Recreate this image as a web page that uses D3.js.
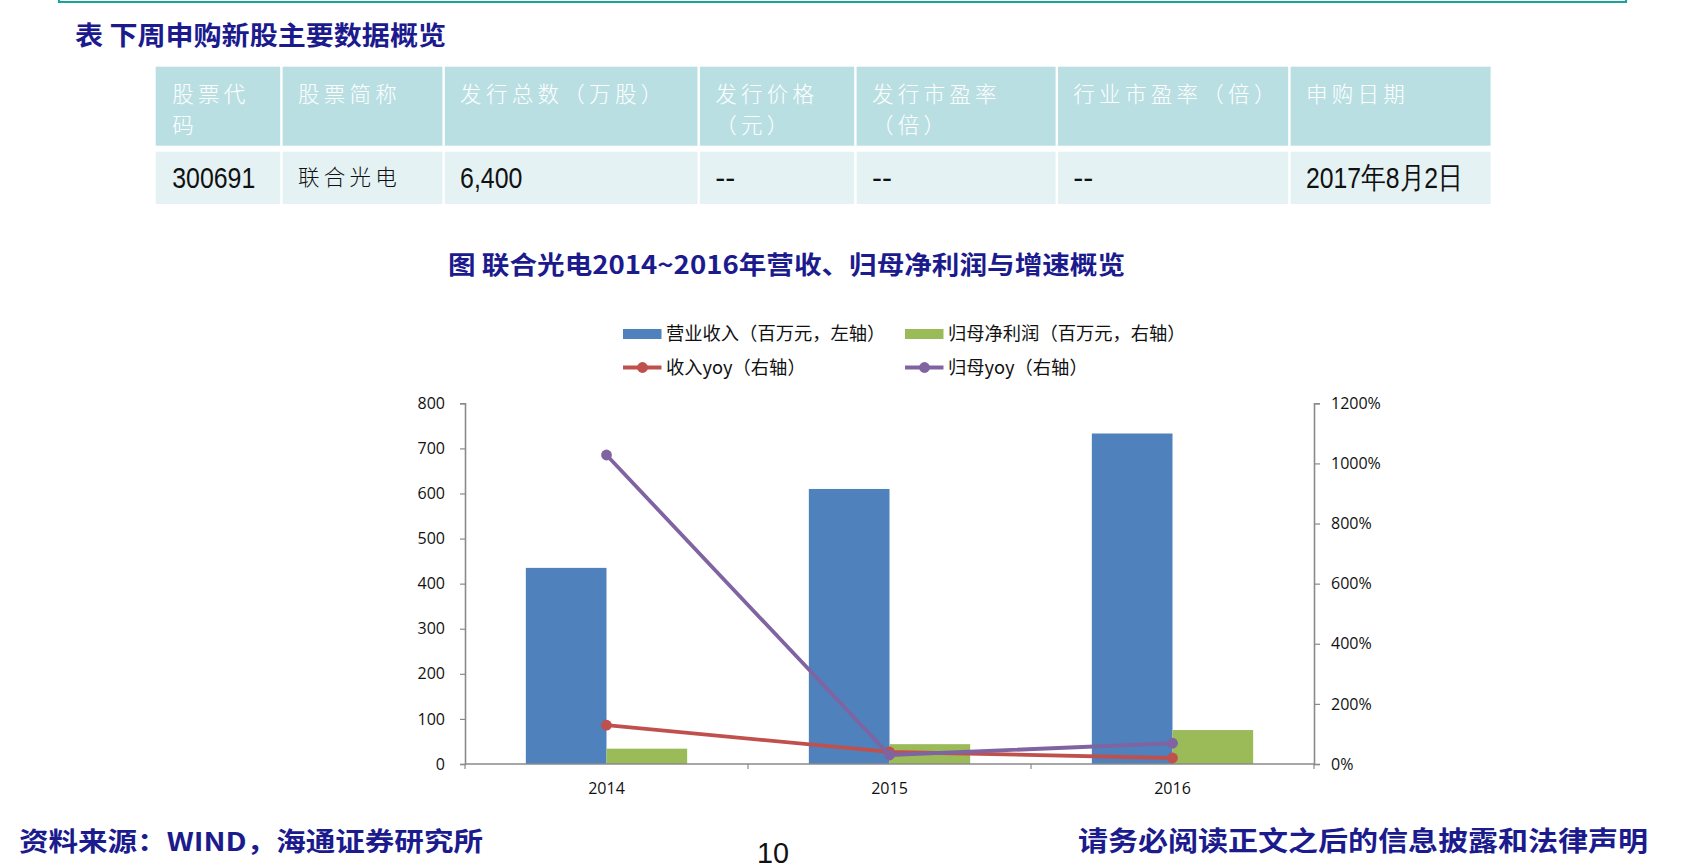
<!DOCTYPE html>
<html><head><meta charset="utf-8">
<script src="https://cdn.jsdelivr.net/npm/d3@7"></script>
<style>body{margin:0;background:#fff;overflow:hidden}svg{display:block}</style>
</head><body><svg id="c" width="1684" height="868"></svg>
<script>
// ---------- data ----------
const years = ["2014", "2015", "2016"];
const revenue = [435, 610, 733];          // 营业收入（百万元，左轴）
const netProfit = [51, 66, 113];          // 归母净利润（百万元，右轴）
const revenueYoy = [129, 40, 20];         // 收入yoy（%，右轴）
const profitYoy = [1028, 30, 69];         // 归母yoy（%，右轴）
const leftTicks = [0, 100, 200, 300, 400, 500, 600, 700, 800];
const rightTicks = [0, 200, 400, 600, 800, 1000, 1200];
const seriesNames = ["营业收入（百万元，左轴）", "归母净利润（百万元，右轴）", "收入yoy（右轴）", "归母yoy（右轴）"];
const tableHeaders = [["股票代", "码"], ["股票简称"], ["发行总数（万股）"], ["发行价格", "（元）"], ["发行市盈率", "（倍）"], ["行业市盈率（倍）"], ["申购日期"]];
const tableRow = ["300691", "联合光电", "6,400", "--", "--", "--", "2017年8月2日"];
const heading = "表 下周申购新股主要数据概览";
const chartTitle = "图 联合光电2014~2016年营收、归母净利润与增速概览";
const sourceNote = "资料来源：WIND，海通证券研究所";
const pageNo = "10";
const disclaimer = "请务必阅读正文之后的信息披露和法律声明";

// ---------- styles ----------
const NAVY = "#1b1b8e";
const CJK = "'Noto Sans CJK SC', sans-serif";
const LAT = "'Open Sans', 'DejaVu Sans', sans-serif";
const C = {blue: "#4f81bd", green: "#9bbb59", red: "#c0504d", purple: "#8064a2", axis: "#8a8a8a"};

const svg = d3.select("#c");

// top frame line
svg.append("path").attr("d", "M59,-2 V2 H1626 V-2").attr("fill", "none")
  .attr("stroke", "#1aa39c").attr("stroke-width", 2.2);

// heading
svg.append("text").attr("x", 75).attr("y", 33.5).attr("dominant-baseline", "central")
  .attr("font-family", CJK).attr("font-weight", 700).attr("font-size", 26)
  .attr("fill", NAVY).attr("textLength", 371).attr("lengthAdjust", "spacingAndGlyphs").text(heading);

// ---------- table ----------
const colEdges = [155.7, 281.4, 443.6, 698.7, 855.4, 1056.8, 1289.4, 1491.8];
const hdrTop = 66.7, hdrBot = 145.7, rowTop = 151.7, rowBot = 204;
const tbl = svg.append("g");
tableHeaders.forEach((lines, i) => {
  const x0 = colEdges[i] + (i ? 1.2 : 0), x1 = colEdges[i + 1] - 1.2;
  tbl.append("rect").attr("x", x0).attr("y", hdrTop).attr("width", x1 - x0).attr("height", hdrBot - hdrTop).attr("fill", "#badfe3");
  tbl.append("rect").attr("x", x0).attr("y", rowTop).attr("width", x1 - x0).attr("height", rowBot - rowTop).attr("fill", "#e5f2f4");
  lines.forEach((ln, j) => {
    tbl.append("text").attr("x", colEdges[i] + 16.5).attr("y", 92.5 + j * 30.5).attr("dominant-baseline", "central")
      .attr("font-family", CJK).attr("font-weight", 300).attr("font-size", 21.5)
      .attr("letter-spacing", "4.3px").attr("fill", "#ffffff").text(ln);
  });
  const v = tableRow[i];
  const hasCJK = /[\u4e00-\u9fff]/.test(v);
  const hasDigit = /\d/.test(v);
  const t = tbl.append("text").attr("x", colEdges[i] + 16.5).attr("fill", "#111").text(v);
  if (hasCJK && !hasDigit) {
    t.attr("y", 175.5).attr("dominant-baseline", "central")
      .attr("font-family", CJK).attr("font-weight", 300).attr("font-size", 21.5).attr("letter-spacing", "4.3px");
  } else {
    t.attr("y", 188).attr("font-family", "'Liberation Sans', sans-serif").attr("font-size", 30);
    if (hasDigit) {
      const target = hasCJK ? 157 : t.node().getComputedTextLength() * 0.83;
      t.attr("textLength", target).attr("lengthAdjust", "spacingAndGlyphs");
    }
  }
});

// chart title
svg.append("text").attr("x", 448).attr("y", 263).attr("dominant-baseline", "central")
  .attr("font-family", CJK).attr("font-weight", 700).attr("font-size", 25)
  .attr("fill", NAVY).attr("textLength", 677).attr("lengthAdjust", "spacingAndGlyphs").text(chartTitle);

// ---------- chart ----------
const xL = 465, xR = 1314, yB = 764, yT = 403.3;
const x = d3.scaleBand().domain(years).range([xL, xR]).paddingInner(0).paddingOuter(0);
const yL = d3.scaleLinear().domain([0, 800]).range([yB, yT]);
const yR = d3.scaleLinear().domain([0, 1200]).range([yB, yT]);
const barW = x.bandwidth() * 0.285;
const cx = d => x(d) + x.bandwidth() / 2;

const g = svg.append("g");
g.selectAll(".rev").data(years).join("rect")
  .attr("x", d => cx(d) - barW).attr("width", barW)
  .attr("y", (d, i) => yL(revenue[i])).attr("height", (d, i) => yB - yL(revenue[i])).attr("fill", C.blue);
g.selectAll(".np").data(years).join("rect")
  .attr("x", d => cx(d)).attr("width", barW)
  .attr("y", (d, i) => yR(netProfit[i])).attr("height", (d, i) => yB - yR(netProfit[i])).attr("fill", C.green);

// axes
const axL = d3.axisLeft(yL).tickValues(leftTicks).tickSize(5).tickPadding(15);
const axR = d3.axisRight(yR).tickValues(rightTicks).tickSize(6).tickPadding(11).tickFormat(d => d + "%");
const gl = svg.append("g").attr("transform", `translate(${xL},0)`).call(axL);
const gr = svg.append("g").attr("transform", `translate(${xR},0)`).call(axR);
const xBounds = [xL, ...years.map(d => x(d) + x.bandwidth())];
const gb = svg.append("g");
gb.append("line").attr("x1", xL).attr("x2", xR).attr("y1", yB).attr("y2", yB).attr("stroke", C.axis).attr("stroke-width", 1.6);
gb.selectAll(".tk").data(xBounds).join("line").attr("x1", d => d).attr("x2", d => d)
  .attr("y1", yB).attr("y2", yB + 5).attr("stroke", C.axis).attr("stroke-width", 1.2);
gb.selectAll(".yr").data(years).join("text").attr("x", d => cx(d)).attr("y", 787.5)
  .attr("dominant-baseline", "central").attr("text-anchor", "middle")
  .attr("font-family", LAT).attr("font-size", 16).attr("fill", "#111").text(d => d);
[gl, gr].forEach(a => {
  a.select(".domain").attr("stroke", C.axis).attr("stroke-width", 1.6);
  a.selectAll(".tick line").attr("stroke", C.axis).attr("stroke-width", 1.2);
  a.selectAll(".tick text").attr("font-family", LAT).attr("font-size", 16).attr("fill", "#111");
});

// lines
function drawLine(vals, color) {
  const pts = years.map((d, i) => [cx(d), yR(vals[i])]);
  svg.append("path").attr("d", d3.line()(pts)).attr("fill", "none")
    .attr("stroke", color).attr("stroke-width", 3.8).attr("stroke-linejoin", "round");
  svg.append("g").selectAll("circle").data(pts).join("circle")
    .attr("cx", p => p[0]).attr("cy", p => p[1]).attr("r", 5.4).attr("fill", color);
}
drawLine(revenueYoy, C.red);
drawLine(profitYoy, C.purple);

// legend
const lg = svg.append("g");
const legItems = [
  {name: seriesNames[0], color: C.blue, type: "bar", x: 623, y: 334},
  {name: seriesNames[1], color: C.green, type: "bar", x: 905, y: 334},
  {name: seriesNames[2], color: C.red, type: "line", x: 623, y: 367.5},
  {name: seriesNames[3], color: C.purple, type: "line", x: 905, y: 367.5}
];
legItems.forEach(it => {
  if (it.type === "bar") {
    lg.append("rect").attr("x", it.x).attr("y", it.y - 5).attr("width", 38.5).attr("height", 10).attr("fill", it.color);
  } else {
    lg.append("line").attr("x1", it.x).attr("x2", it.x + 38.5).attr("y1", it.y).attr("y2", it.y)
      .attr("stroke", it.color).attr("stroke-width", 3.8);
    lg.append("circle").attr("cx", it.x + 19.5).attr("cy", it.y).attr("r", 5.4).attr("fill", it.color);
  }
  lg.append("text").attr("x", it.x + 43).attr("y", it.y - 2).attr("dominant-baseline", "central")
    .attr("font-family", CJK).attr("font-size", 18.3).attr("fill", "#111").text(it.name);
});

// footer
svg.append("text").attr("x", 19).attr("y", 839).attr("dominant-baseline", "central")
  .attr("font-family", CJK).attr("font-weight", 700).attr("font-size", 26).attr("fill", NAVY)
  .attr("textLength", 464).attr("lengthAdjust", "spacingAndGlyphs").text(sourceNote);
svg.append("text").attr("x", 757).attr("y", 852.5).attr("dominant-baseline", "central")
  .attr("font-family", "'Liberation Sans', sans-serif").attr("font-size", 29).attr("fill", "#111")
  .attr("textLength", 32).attr("lengthAdjust", "spacingAndGlyphs").text(pageNo);
svg.append("text").attr("x", 1078).attr("y", 839).attr("dominant-baseline", "central")
  .attr("font-family", CJK).attr("font-weight", 700).attr("font-size", 27).attr("fill", NAVY)
  .attr("textLength", 570).attr("lengthAdjust", "spacingAndGlyphs").text(disclaimer);
</script></body></html>
